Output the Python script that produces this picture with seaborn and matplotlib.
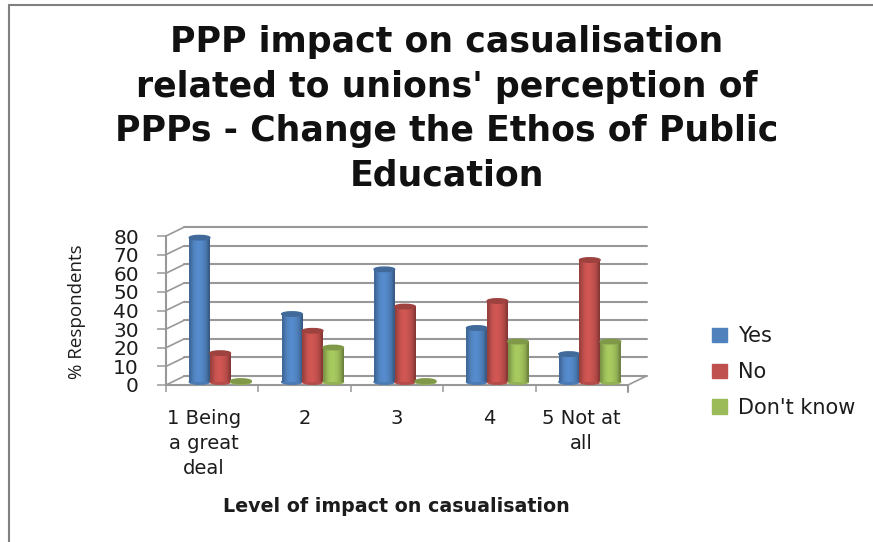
import numpy as np
import pandas as pd
import seaborn as sns
import matplotlib
matplotlib.use("Agg")
import matplotlib.pyplot as plt
from matplotlib.lines import Line2D
from matplotlib.patches import Ellipse, Patch
from matplotlib.transforms import ScaledTranslation
from matplotlib.colors import to_rgb

categories = ["1 Being\na great\ndeal", "2", "3", "4", "5 Not at\nall"]
yes_values = [77.5, 36.5, 60.5, 29, 15]
no_values = [15.5, 27.5, 40.5, 43.5, 65.5]
dont_know_values = [0.5, 18.5, 0.5, 21.7, 21.7]
series_names = ["Yes", "No", "Don't know"]
series_colors = ["#4F81BD", "#C0504D", "#9BBB59"]
title_text = "PPP impact on casualisation\nrelated to unions' perception of\nPPPs - Change the Ethos of Public\nEducation"
y_ticks = list(range(0, 90, 10))

W, H, DPI = 873, 542, 100
GRID = "#989898"
TEXT = "#1c1c1c"

df = pd.DataFrame({"level": categories * 3,
                   "series": sum([[s] * 5 for s in series_names], []),
                   "value": yes_values + no_values + dont_know_values})

sns.set_theme(style="white")
plt.rcParams["font.family"] = ["DejaVu Sans"]
fig = plt.figure(figsize=(W / DPI, H / DPI), dpi=DPI, facecolor="white")
ax = fig.add_axes([166 / W, 1 - 385 / H, (628 - 166) / W, (385 - 236) / H])

sns.barplot(data=df, x="level", y="value", hue="series", hue_order=series_names,
            palette=series_colors, width=0.67, gap=0, saturation=1, legend=False,
            ax=ax, zorder=3)
ax.set_xlim(-0.5, 4.5)
ax.set_ylim(0, 80)
ax.patch.set_alpha(0)
sns.despine(ax=ax, top=True, right=True, left=True, bottom=True)

# 3-D chart frame: back wall and floor
dx, dy = 18.5 / 92.4, 9 / (149 / 80)
for v in y_ticks:
    ax.plot([-0.5 + dx, 4.5 + dx], [v + dy, v + dy], color=GRID, lw=1.5, clip_on=False, zorder=1)
    ax.plot([-0.5, -0.5 + dx], [v, v + dy], color=GRID, lw=1.2, clip_on=False, zorder=1)
ax.plot([-0.5, -0.5], [0, 80], color=GRID, lw=1.5, clip_on=False, zorder=1)
ax.plot([-0.5, 4.5], [0, 0], color=GRID, lw=1.5, clip_on=False, zorder=1)
ax.plot([4.5, 4.5 + dx], [0, dy], color=GRID, lw=1.2, clip_on=False, zorder=1)

# Ticks
ax.set_yticks(y_ticks)
ax.set_xticks(np.arange(len(categories)) - 0.5, minor=True)
ax.set_xticks(np.arange(len(categories)), labels=categories)
ax.plot([4.5, 4.5], [0, -3.7], color=GRID, lw=1.5, clip_on=False, zorder=1)
ax.tick_params(axis="y", length=6.5, width=1.1, color=GRID, labelsize=14.5, labelcolor=TEXT,
               pad=13, left=True)
ax.tick_params(axis="x", which="minor", length=5, width=1.1, color=GRID, bottom=True)
ax.tick_params(axis="x", which="major", length=0, labelsize=14, labelcolor=TEXT, pad=17)
for lab in ax.get_xticklabels():
    lab.set_linespacing(1.4)
ax.get_xticklabels()[0].set_transform(
    ax.get_xticklabels()[0].get_transform() + ScaledTranslation(-8 / DPI, 0, fig.dpi_scale_trans))

ax.set_ylabel("% Respondents", family="Open Sans", fontsize=13.5, color=TEXT, labelpad=6)
ax.set_xlabel("Level of impact on casualisation", family="DejaVu Sans", fontweight="bold",
              fontsize=13.7, color=TEXT)
ax.xaxis.set_label_coords(396 / W, 1 - 506 / H, transform=fig.transFigure)
ax.yaxis.set_label_coords(77 / W, 1 - 312 / H, transform=fig.transFigure)
ax.xaxis.label.set_va("center")
ax.yaxis.label.set_va("center")

# Cylinders built on the bars seaborn drew
shift = ax.transData + ScaledTranslation(8 / DPI, 3 / DPI, fig.dpi_scale_trans)
cap_h = 4.5 / (149 / 80)
z = 4
profile = np.array([0.8, 0.92, 1.02, 1.07, 1.09, 1.07, 1.03, 0.97, 0.88, 0.7])
for container, base in zip(ax.containers, series_colors):
    rgb = np.array(to_rgb(base))
    grad = np.clip(rgb[None, None, :] * profile[None, :, None], 0, 1)
    dark = tuple(rgb * 0.82)
    for bar in container:
        x0, w, h = bar.get_x(), bar.get_width(), bar.get_height()
        bar.set_visible(False)
        ax.add_patch(Ellipse((x0 + w / 2, 0), w, cap_h, color=tuple(rgb * 0.95),
                             transform=shift, zorder=z, clip_on=False))
        im = ax.imshow(grad, extent=(x0, x0 + w, 0, h), aspect="auto", zorder=z + 0.1,
                       interpolation="bilinear", clip_on=False)
        im.set_transform(shift)
        ax.add_patch(Ellipse((x0 + w / 2, h), w, cap_h, color=dark,
                             transform=shift, zorder=z + 0.2, clip_on=False))
        z += 1
ax.set_xlim(-0.5, 4.5)
ax.set_ylim(0, 80)

# Title
fig.text(447 / W, 1 - 109 / H, title_text, ha="center", va="center", family="DejaVu Sans",
         fontweight="bold", fontsize=25, color="#111111", linespacing=1.39)

# Legend
handles = [Patch(color=c, label=n) for c, n in zip(series_colors, series_names)]
fig.legend(handles=handles, loc="center left", bbox_to_anchor=(702 / W, 1 - 372 / H),
           frameon=False, fontsize=15, labelcolor=TEXT, handlelength=0.68, handleheight=0.68,
           handletextpad=0.55, labelspacing=0.76, borderaxespad=0, borderpad=0.5)

# Page frame
frame = dict(color="#808080", lw=1.5, transform=fig.transFigure)
fig.add_artist(Line2D([9 / W, 9 / W], [0, 1 - 4.5 / H], **frame))
fig.add_artist(Line2D([9 / W, 1], [1 - 4.5 / H, 1 - 4.5 / H], **frame))

fig.savefig("out.png", dpi=DPI)
